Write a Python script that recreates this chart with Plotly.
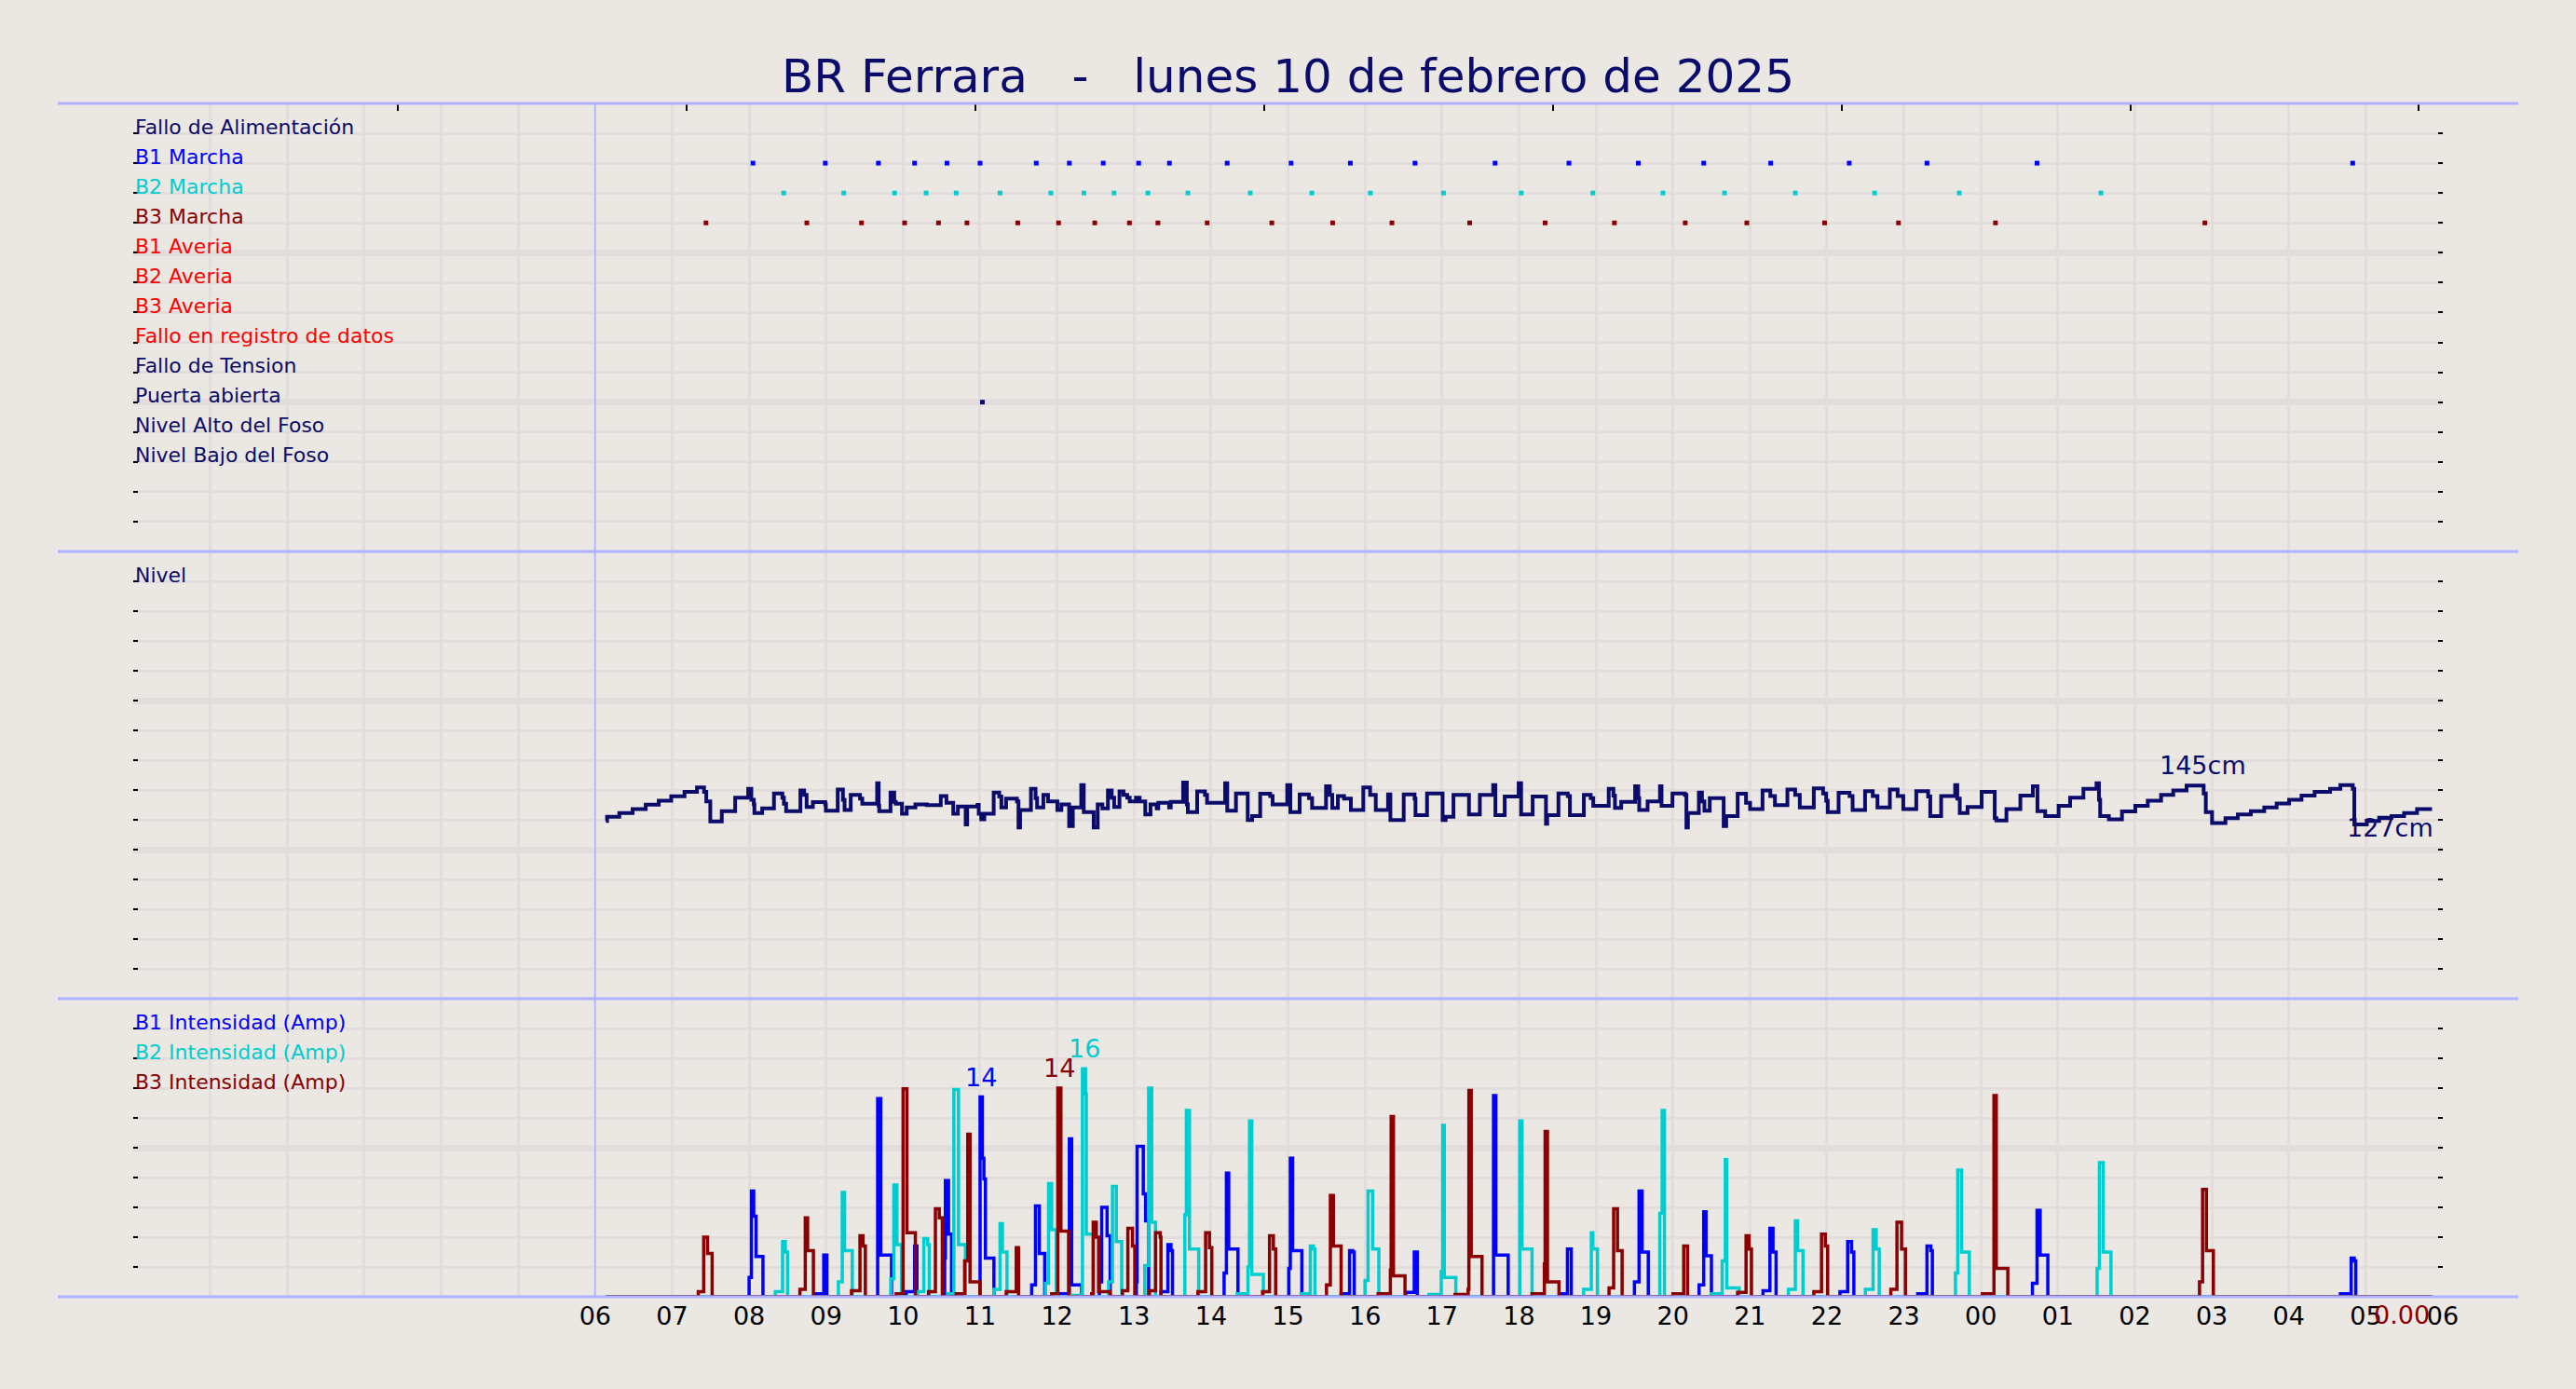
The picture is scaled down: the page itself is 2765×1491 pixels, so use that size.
import plotly.graph_objects as go

# ---------------- colours ----------------
BG = "#ebe7e2"
GRID = "#e2dddc"
SEP = "#b0b0ff"
NAVY = "#0b0b6b"
B1C = "#0000ff"
B2C = "#00cdd0"
B3C = "#8b0000"
RED = "#ff0000"
FONT = "DejaVu Sans"

# ---------------- data ----------------
title_text = "BR Ferrara\u00a0\u00a0\u00a0-\u00a0\u00a0\u00a0lunes 10 de febrero de 2025"

event_labels = ["Fallo de Alimentación", "B1 Marcha", "B2 Marcha", "B3 Marcha",
                "B1 Averia", "B2 Averia", "B3 Averia", "Fallo en registro de datos",
                "Fallo de Tension", "Puerta abierta", "Nivel Alto del Foso", "Nivel Bajo del Foso"]
event_label_colors = [NAVY, B1C, B2C, B3C, RED, RED, RED, RED, NAVY, NAVY, NAVY, NAVY]

# hours since 00:00 of 10/02 (24+ = next day)
b1_marcha = [8.05, 8.99, 9.68, 10.15, 10.57, 11.00, 11.73, 12.16, 12.60, 13.06, 13.46, 14.21,
             15.04, 15.81, 16.65, 17.69, 18.65, 19.55, 20.40, 21.27, 22.29, 23.30, 24.73, 28.83]
b2_marcha = [8.45, 9.23, 9.89, 10.30, 10.69, 11.26, 11.92, 12.35, 12.74, 13.18, 13.70, 14.51,
             15.31, 16.07, 17.02, 18.03, 18.96, 19.87, 20.67, 21.59, 22.62, 23.72, 25.56]
b3_marcha = [7.44, 8.75, 9.46, 10.02, 10.46, 10.83, 11.49, 12.02, 12.49, 12.94, 13.31, 13.95,
             14.79, 15.58, 16.35, 17.36, 18.34, 19.24, 20.16, 20.96, 21.97, 22.93, 24.19, 26.91]
puerta_abierta = [11.03]

# level (hour, cm) step samples
level = [
    (6.14, 128.6), (6.155, 130.6), (6.314, 132.3), (6.487, 134.1), (6.657, 136.1), (6.826, 138.0),
    (6.988, 140.0), (7.161, 142.0), (7.323, 144.1), (7.415, 142.0), (7.444, 137.7), (7.496, 128.4),
    (7.645, 133.1), (7.819, 139.4), (7.988, 143.4), (8.029, 138.4), (8.061, 136.3), (8.069, 132.3),
    (8.170, 134.4), (8.323, 141.3), (8.432, 139.4), (8.452, 136.6), (8.481, 133.1), (8.666, 142.7),
    (8.715, 140.6), (8.747, 135.1), (8.828, 137.3), (8.989, 136.3), (8.997, 133.4), (9.151, 143.1),
    (9.219, 138.4), (9.240, 133.7), (9.320, 140.6), (9.441, 138.9), (9.470, 136.6), (9.663, 146.0),
    (9.683, 135.6), (9.690, 133.1), (9.837, 141.7), (9.885, 137.4), (9.905, 136.6), (9.986, 132.0),
    (10.047, 134.9), (10.160, 136.3), (10.309, 135.9), (10.490, 140.1), (10.563, 137.0), (10.652, 132.0),
    (10.712, 135.3), (10.813, 127.0), (10.833, 135.3), (10.967, 136.0), (10.983, 132.0), (11.015, 129.4),
    (11.055, 132.0), (11.177, 141.7), (11.249, 139.9), (11.277, 134.9), (11.338, 138.9), (11.479, 137.7),
    (11.499, 125.6), (11.520, 133.7), (11.661, 143.4), (11.721, 139.1), (11.741, 134.9), (11.822, 140.6),
    (11.883, 137.7), (12.004, 133.7), (12.056, 136.3), (12.157, 126.3),
    (12.205, 134.9), (12.314, 145.1), (12.347, 132.7), (12.476, 125.6), (12.528, 136.3), (12.589, 134.4),
    (12.661, 142.7), (12.710, 139.4), (12.742, 135.1), (12.811, 142.3), (12.863, 140.6), (12.912, 139.4),
    (12.944, 137.7), (13.025, 139.4), (13.073, 137.7), (13.146, 131.7), (13.214, 136.3), (13.295, 134.4),
    (13.315, 137.0), (13.456, 134.9), (13.477, 137.4), (13.638, 146.3), (13.686, 136.3), (13.699, 132.7),
    (13.820, 142.3), (13.921, 140.6), (13.949, 137.0), (14.183, 146.0), (14.211, 133.4), (14.324, 141.3),
    (14.477, 129.1), (14.534, 130.9), (14.639, 141.2), (14.768, 140.1), (14.800, 136.3), (14.990, 145.1),
    (15.030, 132.7), (15.151, 140.9), (15.272, 139.1), (15.313, 134.6), (15.494, 144.6), (15.543, 140.6),
    (15.575, 134.6), (15.648, 140.1), (15.728, 138.9), (15.817, 133.7), (15.978, 144.1), (16.067, 140.6),
    (16.140, 133.7), (16.300, 140.9), (16.330, 129.1), (16.503, 140.9), (16.644, 138.9), (16.656, 131.3),
    (16.806, 141.3), (17.008, 129.1), (17.048, 130.6), (17.149, 140.6), (17.351, 131.7), (17.492, 140.6),
    (17.665, 145.1), (17.694, 131.3), (17.815, 139.9), (17.996, 146.0), (18.028, 131.7),
    (18.178, 139.9), (18.351, 127.4), (18.367, 131.3), (18.513, 141.3), (18.634, 140.1), (18.662, 131.3),
    (18.843, 140.6), (18.932, 139.1), (18.965, 135.6), (19.166, 143.4), (19.227, 140.3), (19.247, 134.6),
    (19.328, 137.4), (19.509, 144.6), (19.550, 139.1), (19.562, 133.7), (19.671, 137.7), (19.832, 144.6),
    (19.852, 135.6), (19.994, 141.3), (20.155, 140.6), (20.175, 125.6), (20.195, 132.3), (20.337, 141.7),
    (20.377, 137.7), (20.409, 133.4), (20.478, 139.1), (20.659, 126.3), (20.692, 130.9), (20.841, 141.2),
    (20.950, 137.0), (21.002, 134.1), (21.164, 142.7), (21.265, 140.1), (21.325, 135.9), (21.487, 143.1),
    (21.588, 140.6), (21.648, 134.9), (21.830, 143.7), (21.951, 141.3), (21.991, 138.0), (22.011, 132.7),
    (22.152, 141.6), (22.294, 140.1), (22.334, 133.7), (22.496, 142.4), (22.596, 140.1), (22.657, 134.9),
    (22.818, 143.1), (22.919, 140.1), (22.992, 134.1), (23.161, 142.4), (23.315, 139.9), (23.343, 130.9),
    (23.484, 140.1), (23.666, 145.1), (23.694, 138.9), (23.726, 132.3), (23.827, 135.1), (24.010, 142.0),
    (24.180, 129.9), (24.202, 128.9),
    (24.332, 134.1), (24.513, 140.3), (24.675, 144.6), (24.735, 133.1), (24.836, 130.9), (25.010, 135.6),
    (25.159, 139.4), (25.332, 143.4), (25.502, 146.0), (25.534, 138.4), (25.550, 130.9), (25.663, 129.4),
    (25.833, 133.0), (26.006, 135.6), (26.168, 138.0), (26.341, 140.6), (26.499, 142.7), (26.672, 144.9),
    (26.894, 141.3), (26.922, 132.7), (27.003, 127.7), (27.177, 129.9), (27.338, 131.7), (27.507, 133.1),
    (27.681, 134.9), (27.842, 136.7), (28.004, 138.4), (28.165, 140.3), (28.335, 142.0), (28.536, 143.4),
    (28.670, 145.1), (28.831, 143.4), (28.851, 127.0), (29.013, 128.7), (29.174, 130.1), (29.335, 130.9),
    (29.497, 132.3), (29.666, 134.1), (29.860, 134.1),
]
level_max_label = ("145cm", 26.88, 144.9)
level_min_label = ("127cm", 28.851, 127.0)

# pump currents (hour, amp) step samples
b1_amp = [
    (6.14, 0),
    (8.00, 1.3), (8.03, 7.1), (8.06, 5.4), (8.09, 2.7), (8.18, 0),
    (8.86, 0.2), (8.97, 2.8), (9.01, 0),
    (9.67, 13.3), (9.71, 2.8), (9.85, 0),
    (10.04, 0.35), (10.15, 3.4), (10.18, 0),
    (10.54, 2.6), (10.55, 7.8), (10.59, 4.2), (10.63, 0),
    (11.00, 13.4), (11.03, 9.3), (11.05, 7.9), (11.07, 2.6), (11.18, 0),
    (11.67, 0.8), (11.72, 6.1), (11.77, 2.9), (11.84, 0),
    (12.04, 0.2), (12.16, 10.6), (12.19, 0.8), (12.32, 0),
    (12.55, 1.0), (12.58, 6.0), (12.65, 4.1), (12.69, 0),
    (13.03, 1.0), (13.04, 10.1), (13.12, 6.9), (13.15, 5.1), (13.19, 0),
    (13.35, 0.35), (13.44, 3.5), (13.48, 3.1), (13.50, 0),
    (14.17, 1.6), (14.20, 8.3), (14.23, 3.2), (14.35, 0),
    (15.01, 1.9), (15.03, 9.3), (15.06, 3.1), (15.18, 0),
    (15.69, 0.2), (15.80, 3.1), (15.84, 3.0), (15.86, 0),
    (16.53, 0.3), (16.64, 3.0), (16.68, 0),
    (17.67, 13.5), (17.70, 2.8), (17.86, 0),
    (18.53, 0.2), (18.63, 3.2), (18.68, 0),
    (19.50, 1.0), (19.56, 7.1), (19.60, 3.0), (19.68, 0),
    (20.34, 0.8), (20.40, 5.7), (20.43, 2.75), (20.50, 0),
    (21.17, 0.4), (21.26, 4.6), (21.30, 3.0), (21.34, 0),
    (22.17, 0.35), (22.27, 3.7), (22.32, 3.0), (22.35, 0),
    (23.18, 0.2), (23.30, 3.4), (23.35, 3.1), (23.37, 0),
    (24.67, 0.9), (24.73, 5.8), (24.77, 2.8), (24.87, 0),
    (28.67, 0.2), (28.81, 2.6), (28.85, 2.4), (28.87, 0),
    (29.86, 0),
]
b2_amp = [
    (6.14, 0),
    (8.34, 0.35), (8.435, 3.7), (8.47, 3.0), (8.50, 0),
    (9.16, 1.0), (9.21, 7.0), (9.24, 3.1), (9.34, 0),
    (9.84, 1.2), (9.88, 7.5), (9.92, 3.5), (9.98, 0),
    (10.19, 0.35), (10.27, 3.9), (10.32, 3.5), (10.34, 0),
    (10.58, 0.2), (10.66, 13.9), (10.72, 3.5), (10.81, 0),
    (11.18, 0.5), (11.26, 4.9), (11.29, 3.0), (11.35, 0),
    (11.85, 0.9), (11.89, 7.6), (11.93, 4.5), (11.99, 0),
    (12.16, 0.1), (12.33, 15.3), (12.37, 13.6), (12.38, 4.2), (12.47, 0),
    (12.67, 1.0), (12.72, 7.4), (12.77, 3.7), (12.84, 0),
    (13.14, 2.1), (13.19, 14.0), (13.23, 5.0), (13.28, 0),
    (13.66, 5.5), (13.68, 12.5), (13.72, 3.2), (13.84, 0),
    (14.34, 0.2), (14.48, 2.0), (14.50, 11.8), (14.53, 1.5), (14.68, 0),
    (15.17, 0.2), (15.29, 3.4), (15.33, 3.2), (15.35, 0),
    (16.00, 1.1), (16.04, 7.1), (16.10, 3.2), (16.18, 0),
    (16.83, 0.15), (16.99, 1.7), (17.01, 11.5), (17.03, 1.3), (17.18, 0),
    (18.01, 11.8), (18.04, 3.2), (18.17, 0),
    (18.84, 0.5), (18.94, 4.3), (18.96, 3.2), (19.02, 0),
    (19.83, 5.6), (19.86, 12.5), (19.89, 0),
    (20.50, 0.2), (20.64, 2.4), (20.68, 9.2), (20.70, 0.6), (20.86, 0),
    (21.50, 0.5), (21.59, 5.1), (21.62, 3.1), (21.69, 0),
    (22.50, 0.5), (22.60, 4.5), (22.64, 3.2), (22.68, 0),
    (23.67, 1.6), (23.70, 8.5), (23.75, 3.0), (23.85, 0),
    (25.51, 1.9), (25.54, 9.0), (25.59, 3.0), (25.69, 0),
    (29.86, 0),
]
b3_amp = [
    (6.14, 0),
    (7.34, 0.35), (7.41, 4.0), (7.46, 2.9), (7.52, 0),
    (8.66, 0.5), (8.73, 5.3), (8.76, 3.1), (8.835, 0),
    (9.33, 0.4), (9.44, 4.1), (9.48, 3.4), (9.51, 0),
    (9.91, 0.2), (10.00, 13.95), (10.05, 4.3), (10.16, 0),
    (10.33, 0.35), (10.42, 5.9), (10.47, 5.3), (10.51, 0),
    (10.69, 0.2), (10.80, 2.4), (10.84, 10.9), (10.87, 1.0), (10.997, 0),
    (11.34, 0.35), (11.47, 3.3), (11.50, 0),
    (11.93, 0.2), (12.01, 14.0), (12.05, 4.4), (12.15, 0),
    (12.45, 0.2), (12.47, 5.0), (12.51, 4.0), (12.54, 0.35), (12.69, 0),
    (12.85, 0.4), (12.92, 4.6), (12.98, 3.4), (13.01, 0),
    (13.20, 0.4), (13.28, 4.3), (13.34, 4.0), (13.35, 0),
    (13.83, 0.35), (13.93, 4.3), (13.98, 3.3), (14.01, 0),
    (14.67, 0.35), (14.76, 4.1), (14.81, 3.2), (14.84, 0),
    (15.50, 0.8), (15.55, 6.8), (15.59, 3.4), (15.69, 0),
    (16.17, 0.2), (16.33, 1.8), (16.34, 12.1), (16.37, 1.4), (16.52, 0),
    (17.17, 0.15), (17.34, 0.5), (17.35, 13.85), (17.38, 2.7), (17.52, 0),
    (18.17, 0.2), (18.33, 2.2), (18.34, 11.1), (18.37, 1.0), (18.52, 0),
    (19.17, 0.6), (19.23, 5.9), (19.28, 3.1), (19.34, 0),
    (20.00, 0.2), (20.14, 3.4), (20.19, 0),
    (20.84, 0.3), (20.95, 4.1), (20.99, 3.2), (21.02, 0),
    (21.83, 0.35), (21.93, 4.2), (21.98, 3.4), (22.01, 0),
    (22.83, 0.5), (22.91, 5.0), (22.97, 3.2), (23.02, 0),
    (24.02, 0.2), (24.17, 13.5), (24.20, 1.9), (24.35, 0),
    (26.84, 1.0), (26.88, 7.2), (26.93, 3.1), (27.02, 0),
    (29.86, 0),
]
# peak labels: (text, hour of the labelled sample)
b1_peak_label = ("14", 11.00)
b2_peak_label = ("16", 12.33)
b3_peak_label = ("14", 12.01)
last_value_label = "0.00"

amp_labels = ["B1 Intensidad (Amp)", "B2 Intensidad (Amp)", "B3 Intensidad (Amp)"]
amp_label_rows = [18, 16, 14]

hours = list(range(0, 31))
hour_text = [""] * 6 + [f"{h % 24:02d}" for h in range(6, 31)]
top_ticks = [3.44, 7.19, 10.94, 14.69, 18.44, 22.19, 25.94, 29.69]

# ---------------- geometry ----------------
W, H = 2765, 1491
ML, MR, MT, MB = 143, 143, 111, 99
d3 = 320 / 1281
d2 = 800 / 1281
lvl_lo, lvl_row = 46.9, 13.714
lvl_hi = lvl_lo + 15 * lvl_row

fig = go.Figure()

# ---- panel 1: events ----
for xs, row, col in [(b1_marcha, 2, B1C), (b2_marcha, 3, B2C), (b3_marcha, 4, B3C),
                     (puerta_abierta, 10, NAVY)]:
    fig.add_trace(go.Scatter(x=xs, y=[row] * len(xs), mode="markers", xaxis="x", yaxis="y",
                             marker=dict(symbol="square", size=5, color=col, line=dict(width=0)),
                             hoverinfo="skip"))

# ---- panel 2: level ----
lt = [p[0] for p in level]
lv = [p[1] for p in level]
fig.add_trace(go.Scatter(x=lt, y=lv, mode="lines", line=dict(shape="hv", color=NAVY, width=4),
                         xaxis="x2", yaxis="y2", hoverinfo="skip"))

# ---- panel 3: currents ----
for data, col in [(b1_amp, B1C), (b2_amp, B2C), (b3_amp, B3C)]:
    fig.add_trace(go.Scatter(x=[p[0] for p in data], y=[p[1] for p in data], mode="lines",
                             line=dict(shape="hv", color=col, width=3.5),
                             xaxis="x3", yaxis="y3", hoverinfo="skip"))

ann = []
for i, (txt, col) in enumerate(zip(event_labels, event_label_colors)):
    ann.append(dict(x=0, y=i + 1, xref="x", yref="y", text=txt, showarrow=False,
                    xanchor="left", yanchor="middle", yshift=7,
                    font=dict(family=FONT, size=22, color=col)))
ann.append(dict(x=0, y=lvl_hi - lvl_row, xref="x2", yref="y2", text="Nivel", showarrow=False,
                xanchor="left", yanchor="middle", yshift=7, font=dict(family=FONT, size=22, color=NAVY)))
for txt, row, col in zip(amp_labels, amp_label_rows, [B1C, B2C, B3C]):
    ann.append(dict(x=0, y=row, xref="x3", yref="y3", text=txt, showarrow=False,
                    xanchor="left", yanchor="middle", yshift=7,
                    font=dict(family=FONT, size=22, color=col)))

# level labels
ann.append(dict(x=level_max_label[1], y=level_max_label[2], xref="x2", yref="y2",
                text=level_max_label[0], showarrow=False, xanchor="center", yanchor="bottom",
                yshift=4, font=dict(family=FONT, size=27, color=NAVY)))
ann.append(dict(x=level_min_label[1], y=level_min_label[2], xref="x2", yref="y2",
                text=level_min_label[0], showarrow=False, xanchor="left", yanchor="middle",
                xshift=-10, yshift=-3, font=dict(family=FONT, size=27, color=NAVY)))

# peak labels on currents
for data, (txt, t), col in [(b1_amp, b1_peak_label, B1C), (b2_amp, b2_peak_label, B2C),
                            (b3_amp, b3_peak_label, B3C)]:
    idx = min(range(len(data)), key=lambda k: abs(data[k][0] - t))
    xm = (data[idx][0] + data[idx + 1][0]) / 2
    ann.append(dict(x=xm, y=data[idx][1], xref="x3", yref="y3", text=txt, showarrow=False,
                    xanchor="center", yanchor="bottom", yshift=4,
                    font=dict(family=FONT, size=27, color=col)))
ann.append(dict(x=b3_amp[-1][0], y=0, xref="x3", yref="y3", text=last_value_label, showarrow=False,
                xanchor="right", yanchor="top", yshift=-2,
                font=dict(family=FONT, size=27, color=B3C)))

# separator lines
xl = (62 - ML) / (W - ML - MR)
xr = (2703 - ML) / (W - ML - MR)
shapes = []
for yy in [1, d2, d3, 0]:
    shapes.append(dict(type="line", xref="paper", yref="paper", x0=xl, x1=xr, y0=yy, y1=yy,
                       line=dict(color=SEP, width=3), layer="above"))
shapes.append(dict(type="line", xref="x3", yref="paper", x0=6, x1=6, y0=0, y1=1,
                   line=dict(color=SEP, width=1.5), layer="above"))

common_x = dict(range=[0, 30], zeroline=False, showline=False, fixedrange=True)
grid_minor = dict(showgrid=True, gridcolor=GRID, gridwidth=3, ticks="inside", ticklen=5,
                  tickwidth=2, tickcolor="black")

fig.update_layout(
    width=W, height=H, autosize=False,
    paper_bgcolor=BG, plot_bgcolor=BG,
    margin=dict(l=ML, r=MR, t=MT, b=MB, pad=0),
    showlegend=False,
    font=dict(family=FONT, color="black"),
    title=dict(text=title_text, x=0.5, xanchor="center", xref="container",
               y=1 - 81 / H, yanchor="middle", yref="container",
               font=dict(family=FONT, size=50, color=NAVY)),
    xaxis=dict(**common_x, domain=[0, 1], anchor="y", side="top", matches="x3",
               tickmode="array", tickvals=top_ticks, ticks="inside", ticklen=8, tickwidth=1.5,
               tickcolor="black", showticklabels=False, showgrid=False,
               minor=dict(tickmode="array", tickvals=hours, showgrid=True, gridcolor=GRID,
                          gridwidth=3, ticks="")),
    xaxis2=dict(**common_x, domain=[0, 1], anchor="y2", matches="x3", tickmode="array",
                tickvals=hours, showticklabels=False, ticks="", showgrid=True,
                gridcolor=GRID, gridwidth=3),
    xaxis3=dict(**common_x, domain=[0, 1], anchor="y3", tickmode="array", tickvals=hours,
                ticktext=hour_text, ticks="", showgrid=True, gridcolor=GRID, gridwidth=3,
                tickfont=dict(family=FONT, size=27, color="black"), ticklabelstandoff=2),
    yaxis=dict(domain=[d2, 1], anchor="x", range=[15, 0], tickmode="array",
               tickvals=[0, 5, 10, 15], showgrid=True, gridcolor=GRID, gridwidth=7,
               ticks="inside", ticklen=5, tickwidth=2, tickcolor="black", mirror="ticks",
               showticklabels=False, zeroline=False, showline=False, fixedrange=True,
               minor=dict(tick0=0, dtick=1, **grid_minor)),
    yaxis2=dict(domain=[d3, d2], anchor="x2", range=[lvl_lo, lvl_hi], tickmode="array",
                tickvals=[lvl_lo + k * 5 * lvl_row for k in range(4)], showgrid=True,
                gridcolor=GRID, gridwidth=7, ticks="inside", ticklen=5, tickwidth=2,
                tickcolor="black", mirror="ticks", showticklabels=False, zeroline=False,
                showline=False, fixedrange=True,
                minor=dict(tick0=lvl_lo, dtick=lvl_row, **grid_minor)),
    yaxis3=dict(domain=[0, d3], anchor="x3", range=[0, 20], tickmode="array",
                tickvals=[0, 10, 20], showgrid=True, gridcolor=GRID, gridwidth=7,
                ticks="inside", ticklen=5, tickwidth=2, tickcolor="black", mirror="ticks",
                showticklabels=False, zeroline=False, showline=False, fixedrange=True,
                minor=dict(tick0=0, dtick=2, **grid_minor)),
    annotations=ann,
    shapes=shapes,
)

fig.write_html("out.html",
               config={"displayModeBar": False},
               post_script="document.body.style.margin='0px';document.body.style.overflow='hidden';"
                           "document.body.style.background='" + BG + "';")
